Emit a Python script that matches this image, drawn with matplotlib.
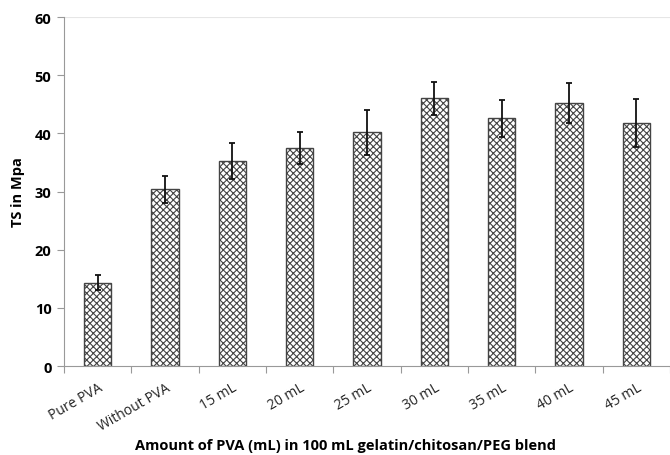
import matplotlib
matplotlib.use("Agg")
import matplotlib.pyplot as plt
import numpy as np

# ── Data ──────────────────────────────────────────────────────────────────────
categories = ["Pure PVA", "Without PVA", "15 mL", "20 mL", "25 mL",
              "30 mL", "35 mL", "40 mL", "45 mL"]
ts_mean = [14.3, 30.4, 35.2, 37.5, 40.2, 46.0, 42.6, 45.2, 41.8]
ts_err  = [1.3, 2.3, 3.1, 2.8, 3.9, 2.9, 3.2, 3.5, 4.1]
y_ticks = [0, 10, 20, 30, 40, 50, 60]

plt.rcParams["font.family"] = ["Open Sans", "DejaVu Sans"]
plt.rcParams["hatch.linewidth"] = 0.8
plt.rcParams["hatch.color"] = "#333333"

fig = plt.figure(figsize=(6.7, 4.56), dpi=100)
ax = fig.add_axes([0.0955, 0.195, 0.9045, 0.7655])

x = np.arange(len(categories))
ax.bar(x, ts_mean, width=0.41, color="white", edgecolor="#444444",
       linewidth=1.0, hatch="xxxxx", zorder=2)
ax.errorbar(x, ts_mean, yerr=ts_err, fmt="none", ecolor="#111111",
            elinewidth=1.3, capsize=2.5, capthick=1.3, zorder=3)

ax.set_xlim(-0.5, len(categories) - 0.5)
ax.set_ylim(0, 60)
ax.set_yticks(y_ticks)
ax.set_yticklabels([str(t) for t in y_ticks], fontsize=10.5, fontweight="bold")
ax.axhline(60, color="#e6e6e6", linewidth=0.8, zorder=1)

# category ticks sit at the boundaries between bars
ax.set_xticks(np.arange(len(categories) + 1) - 0.5)
ax.set_xticklabels([])
ax.set_xticks(x, minor=True)
ax.set_xticklabels(categories, minor=True, rotation=30, ha="right",
                   rotation_mode="anchor", fontsize=10, color="#222222")
ax.tick_params(axis="x", which="minor", length=0, pad=10)
ax.tick_params(axis="x", which="major", length=5, color="#999999")
ax.tick_params(axis="y", length=5, color="#999999", pad=4)

for side in ["top", "right"]:
    ax.spines[side].set_visible(False)
for side in ["left", "bottom"]:
    ax.spines[side].set_color("#999999")

ax.set_ylabel("TS in Mpa", fontsize=10.5, fontweight="bold")
ax.yaxis.set_label_coords(-0.065, 0.5)
ax.set_xlabel("Amount of PVA (mL) in 100 mL gelatin/chitosan/PEG blend",
              fontsize=10.5, fontweight="bold")
ax.xaxis.set_label_coords(0.465, -0.205)

fig.savefig("out.png", dpi=100)
